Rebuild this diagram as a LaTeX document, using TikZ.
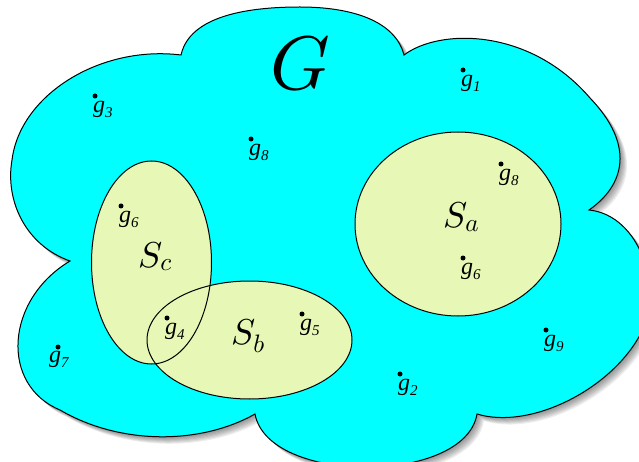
\documentclass[tikz,border=0pt]{standalone}
\usepackage{fontspec}
\usepackage{tikz}
\usetikzlibrary{positioning}
\newfontfamily\gfont{Liberation Serif}
% scalable math italic for the large set names
\DeclareFontShape{OML}{cmm}{m}{it}{<-> cmmi10}{}
\definecolor{cloudcyan}{RGB}{0,255,255}
\definecolor{setgreen}{RGB}{231,247,181}
% outline of the cloud G (x=1pt, y=-1pt)
\newcommand{\cloudpath}{(181,55) .. controls (190,15) and (250,7) .. (300,7)
  .. controls (350,7) and (395,20) .. (404,55)
  .. controls (440,28) and (530,28) .. (590,98)
  .. controls (635,145) and (625,185) .. (589,210)
  .. controls (640,215) and (665,290) .. (640,335)
  .. controls (610,390) and (530,430) .. (477,414)
  .. controls (465,485) and (268,485) .. (255,414)
  .. controls (200,445) and (120,445) .. (60,410)
  .. controls (0,385) and (5,300) .. (70,261)
  .. controls (25,245) and (5,200) .. (12,160)
  .. controls (20,95) and (100,45) .. (181,55) -- cycle}
\newcommand{\gname}[1]{{\gfont\itshape g\raisebox{-0.22em}{\fontsize{15}{15}\selectfont #1}}}

\begin{document}
\begin{tikzpicture}[
  x=1pt, y=-1pt,
  gdot/.style={circle, fill=black, inner sep=0pt, minimum size=5pt},
  glab/.style={inner sep=0pt, font=\fontsize{24}{24}\selectfont},
  setlab/.style={inner sep=0pt, anchor=base west, font=\fontsize{36}{36}\selectfont},
  setline/.style={draw=black, line width=1pt}
]
\path[use as bounding box, clip] (0,0) rectangle (639,462);

% --- cloud G with soft shadow ---
\foreach \s in {1,...,7}
  \fill[black, opacity=0.07, shift={(\s*1,\s*1)}] \cloudpath;
\fill[cloudcyan] \cloudpath;
\draw[line width=1pt] \cloudpath;
\node[font=\fontsize{76}{76}\selectfont, inner sep=0pt] (G) at (300,64) {$G$};

% --- sets ---
\fill[setgreen] (458,224) ellipse (103 and 92);
\fill[setgreen] (151.5,262.5) ellipse (60 and 101.5);
\fill[setgreen] (249.5,340) ellipse (102.5 and 59);
\draw[setline] (458,224) ellipse (103 and 92);
\draw[setline] (151.5,262.5) ellipse (60 and 101.5);
\draw[setline] (249.5,340) ellipse (102.5 and 59);

\node[setlab] (Sa) at (443,228) {$S_a$};
\node[setlab] (Sc) at (138,267) {$S_c$};
\node[setlab] (Sb) at (231,344) {$S_b$};

% --- elements ---
\node[gdot] (g1) at (463,70) {};
\node[gdot] (g2) at (400,374) {};
\node[gdot] (g3) at (95,96) {};
\node[gdot] (g4) at (167,318) {};
\node[gdot] (g5) at (302,314) {};
\node[gdot] (g6) at (121,206) {};
\node[gdot] (g6a) at (463,258) {};
\node[gdot] (g7) at (58,347) {};
\node[gdot] (g8) at (251,139) {};
\node[gdot] (g8a) at (501,164) {};
\node[gdot] (g9) at (546,330) {};

\node[glab, below right=3pt and -4pt of g1] (l1) {\gname{1}};
\node[glab, below right=3pt and -4pt of g2] (l2) {\gname{2}};
\node[glab, below right=3pt and -4pt of g3] (l3) {\gname{3}};
\node[glab, below right=3pt and -4pt of g4] (l4) {\gname{4}};
\node[glab, below right=3pt and -4pt of g5] (l5) {\gname{5}};
\node[glab, below right=3pt and -4pt of g6] (l6) {\gname{6}};
\node[glab, below right=3pt and -4pt of g6a] (l6a) {\gname{6}};
\node[glab, below right=2pt and -11pt of g7] (l7) {\gname{7}};
\node[glab, below right=3pt and -4pt of g8] (l8) {\gname{8}};
\node[glab, below right=3pt and -4pt of g8a] (l8a) {\gname{8}};
\node[glab, below right=3pt and -4pt of g9] (l9) {\gname{9}};

\end{tikzpicture}
\end{document}
